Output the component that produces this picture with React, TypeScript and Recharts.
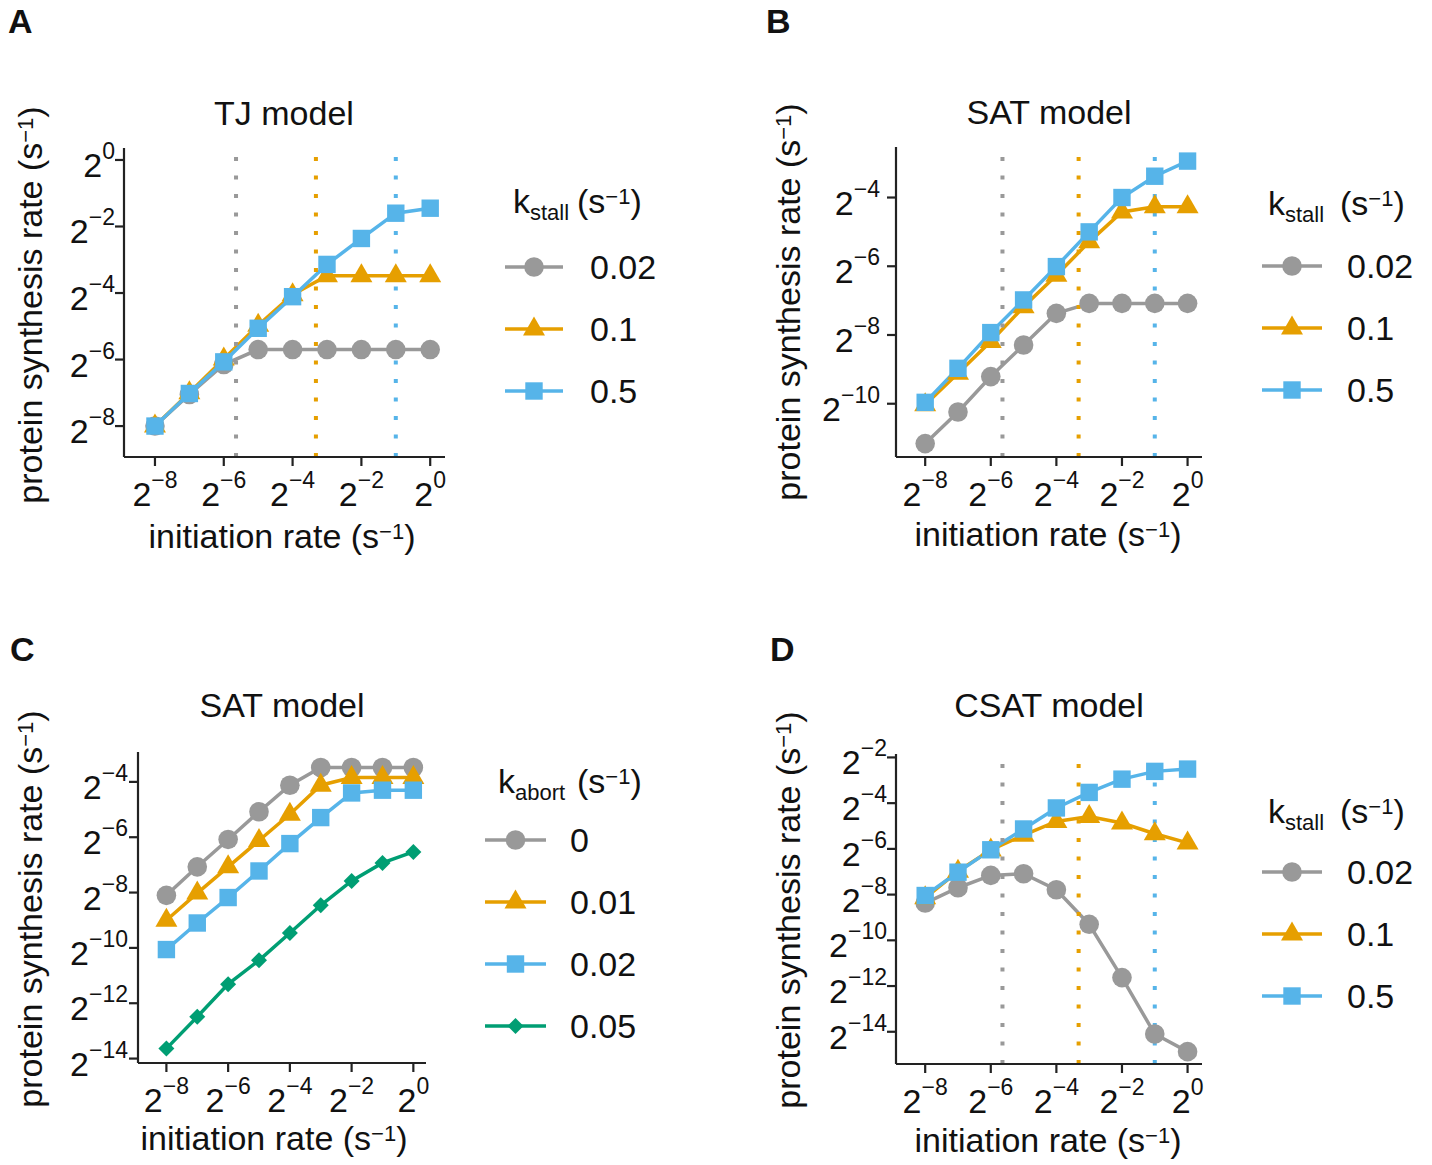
import React from 'react';
import { LineChart, Line, XAxis, YAxis, ReferenceLine, Legend } from 'recharts';

const FONT = '"Liberation Sans", Arial, Helvetica, sans-serif';
const INK = '#111111';
const AXIS = '#222222';

const GRAY = '#999999';
const ORANGE = '#E69F00';
const BLUE = '#56B4E9';
const GREEN = '#009E73';

// x = log2(initiation rate)
const initExp = [-8, -7, -6, -5, -4, -3, -2, -1, 0];
const xTicks = [-8, -6, -4, -2, 0];

const kStall = [0.02, 0.1, 0.5];
const stallLabels = ['0.02', '0.1', '0.5'];
const abortLabels = ['0', '0.01', '0.02', '0.05'];

// y = log2(protein synthesis rate)
const tjStall002 = [-8.0, -7.05, -6.15, -5.7, -5.7, -5.7, -5.7, -5.7, -5.7];
const tjStall01 = [-8.0, -7.0, -5.98, -4.97, -4.05, -3.48, -3.48, -3.48, -3.48];
const tjStall05 = [-8.0, -7.02, -6.07, -5.06, -4.11, -3.14, -2.36, -1.6, -1.45];

const satStall002 = [-11.16, -10.24, -9.21, -8.29, -7.37, -7.08, -7.08, -7.08, -7.08];
const satStall01 = [-10.03, -9.11, -8.19, -7.18, -6.26, -5.29, -4.42, -4.27, -4.27];
const satStall05 = [-9.96, -8.97, -7.93, -6.98, -6.01, -5.0, -4.0, -3.38, -2.94];

const satAbort0 = [-8.1, -7.07, -6.08, -5.08, -4.12, -3.48, -3.48, -3.48, -3.48];
const satAbort001 = [-9.0, -8.02, -7.07, -6.12, -5.17, -4.12, -3.84, -3.84, -3.84];
const satAbort002 = [-10.06, -9.1, -8.18, -7.22, -6.23, -5.29, -4.4, -4.3, -4.3];
const satAbort005 = [-13.64, -12.49, -11.31, -10.45, -9.46, -8.46, -7.58, -6.93, -6.53];

const csatStall002 = [-8.37, -7.7, -7.16, -7.09, -7.79, -9.3, -11.63, -14.1, -14.87];
const csatStall01 = [-8.14, -6.98, -6.05, -5.4, -4.8, -4.58, -4.87, -5.34, -5.74];
const csatStall05 = [-8.04, -7.02, -6.04, -5.13, -4.21, -3.53, -2.95, -2.61, -2.51];

type Shape = 'circle' | 'triangle' | 'square' | 'diamond';
interface Series { key: string; label: string; color: string; shape: Shape; values: number[] }

const stallSeries = (vals: number[][]): Series[] => [
  { key: 's0', label: stallLabels[0], color: GRAY, shape: 'circle', values: vals[0] },
  { key: 's1', label: stallLabels[1], color: ORANGE, shape: 'triangle', values: vals[1] },
  { key: 's2', label: stallLabels[2], color: BLUE, shape: 'square', values: vals[2] },
];

const Marker = ({ cx, cy, shape, color }: { cx: number; cy: number; shape: Shape; color: string }) => {
  if (cx == null || cy == null || isNaN(cx) || isNaN(cy)) return null;
  switch (shape) {
    case 'circle':
      return <circle cx={cx} cy={cy} r={9.8} fill={color} />;
    case 'triangle':
      return <polygon points={`${cx},${cy - 12.5} ${cx + 11},${cy + 6.5} ${cx - 11},${cy + 6.5}`} fill={color} />;
    case 'square':
      return <rect x={cx - 8.7} y={cy - 8.7} width={17.4} height={17.4} fill={color} />;
    default:
      return <polygon points={`${cx},${cy - 8} ${cx + 8},${cy} ${cx},${cy + 8} ${cx - 8},${cy}`} fill={color} />;
  }
};

const supText = (v: number) => (v < 0 ? `\u2212${Math.abs(v)}` : `${v}`);

const PowTick = (props: any) => {
  const { x, y, payload, side } = props;
  const isX = side === 'x';
  return (
    <text x={x} y={isX ? y + 40 : y + 17} textAnchor={isX ? 'middle' : 'end'} fontFamily={FONT} fill={INK}>
      <tspan fontSize={34}>2</tspan>
      <tspan fontSize={23} dy={-18}>{supText(payload.value)}</tspan>
    </text>
  );
};

const AxisTitle = ({ px, py, vertical, text }: any) => (
  <text
    x={px}
    y={py}
    transform={vertical ? `rotate(-90 ${px} ${py})` : undefined}
    textAnchor="middle"
    fontFamily={FONT}
    fontSize={34}
    fill={INK}
  >
    {text}
    <tspan fontSize={22} dy={-9}>{'\u22121'}</tspan>
    <tspan dy={9}>)</tspan>
  </text>
);

interface LegendCfg { sub: string; kx: number; parenX: number; titleY: number; rowY: number; x0: number; x1: number; labelX: number }

const LEG_LEFT = 460;
const LEG_TOP = 150;

const LegendBox = ({ payload, cfg, series }: { payload?: any[]; cfg: LegendCfg; series: Series[] }) => (
  <svg width={256} height={330} style={{ overflow: 'visible', display: 'block' }}>
    <g transform={`translate(${-LEG_LEFT} ${-LEG_TOP})`} fontFamily={FONT} fill={INK}>
      <text x={cfg.kx} y={cfg.titleY} fontSize={34}>
        k<tspan fontSize={22} dy={7}>{cfg.sub}</tspan>
      </text>
      <text x={cfg.parenX} y={cfg.titleY} fontSize={34}>
        (s<tspan fontSize={22} dy={-9}>{'\u22121'}</tspan>
        <tspan dy={9}>)</tspan>
      </text>
      {(payload ?? []).map((item: any, i: number) => {
        const s = series.find((d) => d.key === item.dataKey) ?? series[i];
        const y = cfg.rowY + i * 62;
        return (
          <g key={s.key}>
            <line x1={cfg.x0} x2={cfg.x1} y1={y} y2={y} stroke={s.color} strokeWidth={3.5} />
            <Marker cx={(cfg.x0 + cfg.x1) / 2} cy={y} shape={s.shape} color={s.color} />
            <text x={cfg.labelX} y={y + 12} fontSize={34}>{s.label}</text>
          </g>
        );
      })}
    </g>
  </svg>
);

interface PanelCfg {
  id: string;
  title: string;
  left: number;
  top: number;
  letterX: number;
  letterY: number;
  titleX: number;
  titleY: number;
  series: Series[];
  xDomain: [number, number];
  yDomain: [number, number];
  yTicks: number[];
  guides: boolean;
  legend: LegendCfg;
  yWidth: number;
  mRight: number;
  mTop: number;
  xHeight: number;
  mBottom: number;
  yTickMargin: number;
  yLabel: [number, number];
  xLabel: [number, number];
}

const panels: PanelCfg[] = [
  {
    id: 'A', title: 'TJ model', left: 0, top: 0, letterX: 8, letterY: 33, titleX: 284, titleY: 125,
    series: stallSeries([tjStall002, tjStall01, tjStall05]),
    xDomain: [-8.9, 0.43], yDomain: [-8.93, 0.36], yTicks: [0, -2, -4, -6, -8], guides: true,
    legend: { sub: 'stall', kx: 513, parenX: 577, titleY: 213, rowY: 267, x0: 505, x1: 563, labelX: 590 },
    yWidth: 124, mRight: 271, mTop: 148, xHeight: 110, mBottom: 15, yTickMargin: 0,
    yLabel: [42, 305], xLabel: [282, 548],
  },
  {
    id: 'B', title: 'SAT model', left: 716, top: 0, letterX: 50, letterY: 33, titleX: 333, titleY: 124,
    series: stallSeries([satStall002, satStall01, satStall05]),
    xDomain: [-8.89, 0.44], yDomain: [-11.55, -2.53], yTicks: [-4, -6, -8, -10], guides: true,
    legend: { sub: 'stall', kx: 552, parenX: 624, titleY: 215, rowY: 266, x0: 546, x1: 606, labelX: 631 },
    yWidth: 180, mRight: 230, mTop: 147, xHeight: 110, mBottom: 15, yTickMargin: 7,
    yLabel: [84, 302], xLabel: [332, 546],
  },
  {
    id: 'C', title: 'SAT model', left: 0, top: 582, letterX: 10, letterY: 79, titleX: 282, titleY: 135,
    series: [
      { key: 'a0', label: abortLabels[0], color: GRAY, shape: 'circle', values: satAbort0 },
      { key: 'a1', label: abortLabels[1], color: ORANGE, shape: 'triangle', values: satAbort001 },
      { key: 'a2', label: abortLabels[2], color: BLUE, shape: 'square', values: satAbort002 },
      { key: 'a3', label: abortLabels[3], color: GREEN, shape: 'diamond', values: satAbort005 },
    ],
    xDomain: [-8.92, 0.41], yDomain: [-14.16, -2.92], yTicks: [-4, -6, -8, -10, -12, -14], guides: false,
    legend: { sub: 'abort', kx: 498, parenX: 577, titleY: 211, rowY: 258, x0: 485, x1: 546, labelX: 570 },
    yWidth: 138, mRight: 290, mTop: 170, xHeight: 90, mBottom: 11, yTickMargin: 1,
    yLabel: [42, 327], xLabel: [274, 568],
  },
  {
    id: 'D', title: 'CSAT model', left: 716, top: 582, letterX: 54, letterY: 79, titleX: 333, titleY: 135,
    series: stallSeries([csatStall002, csatStall01, csatStall05]),
    xDomain: [-8.89, 0.44], yDomain: [-15.41, -1.85], yTicks: [-2, -4, -6, -8, -10, -12, -14], guides: true,
    legend: { sub: 'stall', kx: 552, parenX: 624, titleY: 241, rowY: 290, x0: 546, x1: 606, labelX: 631 },
    yWidth: 180, mRight: 230, mTop: 172, xHeight: 90, mBottom: 10, yTickMargin: 0,
    yLabel: [84, 328], xLabel: [332, 570],
  },
];

const PANEL_W = 716;
const PANEL_H = 582;

const Panel = ({ p }: { p: PanelCfg }) => {
  const rows = initExp.map((x, i) => {
    const row: Record<string, number> = { x };
    p.series.forEach((s) => { row[s.key] = s.values[i]; });
    return row;
  });

  return (
    <div style={{ position: 'absolute', left: p.left, top: p.top, width: PANEL_W, height: PANEL_H }}>
      <LineChart
        width={PANEL_W}
        height={PANEL_H}
        data={rows}
        margin={{ top: p.mTop, right: p.mRight, bottom: p.mBottom, left: 0 }}
        style={{ fontFamily: FONT }}
      >
        <XAxis
          type="number"
          dataKey="x"
          domain={p.xDomain}
          ticks={xTicks}
          interval={0}
          allowDataOverflow
          height={p.xHeight}
          tickSize={9}
          tickMargin={0}
          axisLine={{ stroke: AXIS, strokeWidth: 2.2 }}
          tickLine={{ stroke: AXIS, strokeWidth: 2.2 }}
          tick={<PowTick side="x" />}
          label={<AxisTitle px={p.xLabel[0]} py={p.xLabel[1]} text="initiation rate (s" />}
        />
        <YAxis
          type="number"
          domain={p.yDomain}
          ticks={p.yTicks}
          interval={0}
          allowDataOverflow
          width={p.yWidth}
          tickSize={9}
          tickMargin={p.yTickMargin}
          axisLine={{ stroke: AXIS, strokeWidth: 2.2 }}
          tickLine={{ stroke: AXIS, strokeWidth: 2.2 }}
          tick={<PowTick side="y" />}
          label={<AxisTitle px={p.yLabel[0]} py={p.yLabel[1]} vertical text="protein synthesis rate (s" />}
        />
        {p.series.map((s) => (
          <Line
            key={s.key}
            type="linear"
            dataKey={s.key}
            name={s.label}
            stroke={s.color}
            strokeWidth={3.5}
            dot={(d: any) => (
              <Marker key={`${s.key}-${d.index}`} cx={d.cx} cy={d.cy} shape={s.shape} color={s.color} />
            )}
            activeDot={false}
            isAnimationActive={false}
          />
        ))}
        {p.guides &&
          kStall.map((k, i) => (
            <ReferenceLine
              key={`g-${k}`}
              x={Math.log2(k)}
              stroke={p.series[i].color}
              strokeWidth={4}
              strokeDasharray="4 14.5"
            />
          ))}
        <Legend
          layout="vertical"
          align="center"
          verticalAlign="middle"
          wrapperStyle={{ left: LEG_LEFT, top: LEG_TOP, width: 256, height: 330 }}
          content={(props: any) => <LegendBox payload={props.payload} cfg={p.legend} series={p.series} />}
        />
      </LineChart>
      <svg
        width={PANEL_W}
        height={PANEL_H}
        style={{ position: 'absolute', left: 0, top: 0, pointerEvents: 'none' }}
      >
        <text x={p.letterX} y={p.letterY} fontFamily={FONT} fontSize={34} fontWeight="bold" fill={INK}>
          {p.id}
        </text>
        <text x={p.titleX} y={p.titleY} textAnchor="middle" fontFamily={FONT} fontSize={34} fill={INK}>
          {p.title}
        </text>
      </svg>
    </div>
  );
}

export default function App() {
  return (
    <div
      style={{
        position: 'absolute',
        left: 0,
        top: 0,
        width: 1432,
        height: 1165,
        background: '#ffffff',
        overflow: 'hidden',
      }}
    >
      {panels.map((p) => (
        <Panel key={p.id} p={p} />
      ))}
    </div>
  );
}
